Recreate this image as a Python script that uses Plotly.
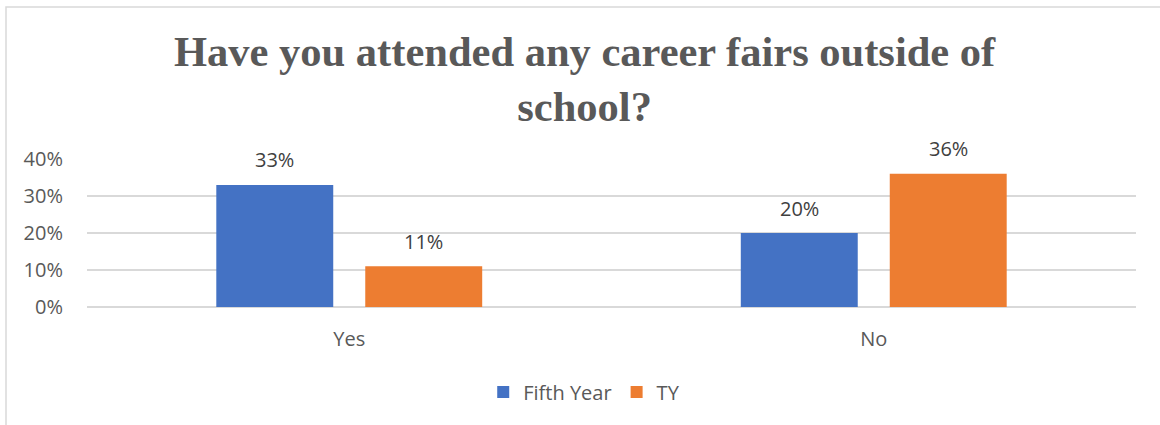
import plotly.graph_objects as go

categories = ["Yes", "No"]
fifth_year = [0.33, 0.20]
ty = [0.11, 0.36]
series_names = ["Fifth Year", "TY"]
title_text = "Have you attended any career fairs outside of<br>school?"

W, H = 1160, 425
M_L, M_R, M_T, M_B = 87, 24, 159, 118
plot_w = W - M_L - M_R
plot_h = H - M_T - M_B

BAR_GAP = 0.432
GROUP_GAP = 0.215
BLUE = "#4472C4"
ORANGE = "#ED7D31"
GRID = "#D9D9D9"
AXIS_TEXT = "#595959"
LABEL_TEXT = "#404040"
FONT = "Open Sans"

fig = go.Figure()
for name, vals, color in [(series_names[0], fifth_year, BLUE), (series_names[1], ty, ORANGE)]:
    fig.add_trace(go.Bar(
        name=name, x=categories, y=vals, marker_color=color,
        marker_line_width=0,
    ))

# value labels placed above each bar, offset to the bar's slot in the group
cat_px = plot_w / len(categories)
slot_px = (1 - BAR_GAP) * cat_px / 2
annotations = []
for i, vals in enumerate([fifth_year, ty]):
    shift = (i - 0.5) * slot_px
    for c, v in zip(categories, vals):
        annotations.append(dict(
            x=c, y=v, xref="x", yref="y", text=f"{round(v*100)}%",
            showarrow=False, xshift=shift, yshift=25, yanchor="middle",
            font=dict(family=FONT, size=20, color=LABEL_TEXT),
        ))

fig.update_layout(
    width=W, height=H,
    margin=dict(l=M_L, r=M_R, t=M_T, b=M_B, pad=0),
    paper_bgcolor="white", plot_bgcolor="white",
    barmode="group", bargap=BAR_GAP, bargroupgap=GROUP_GAP,
    title=dict(
        text=title_text, x=0.504, xanchor="center", xref="container",
        y=0.845, yanchor="top", yref="container",
        font=dict(family="Liberation Serif", size=42.5, color="#595959", weight="bold"),
    ),
    font=dict(family=FONT, size=20, color=AXIS_TEXT),
    yaxis=dict(
        range=[0, 0.4], dtick=0.1, tickformat=".0%",
        showgrid=True, gridcolor=GRID, gridwidth=1.5,
        zeroline=True, zerolinecolor=GRID, zerolinewidth=1.5,
        showline=False, ticks="", ticklabelstandoff=23,
        tickfont=dict(family=FONT, size=20, color=AXIS_TEXT),
    ),
    xaxis=dict(
        showline=False, ticks="", showgrid=False, ticklabelstandoff=18,
        tickfont=dict(family=FONT, size=20, color=AXIS_TEXT),
    ),
    legend=dict(
        orientation="h", x=0.474, xanchor="center", y=-0.574, yanchor="middle",
        font=dict(family=FONT, size=20, color=AXIS_TEXT),
        itemwidth=30, traceorder="normal",
    ),
    annotations=annotations,
    shapes=[dict(
        type="rect", xref="paper", yref="paper",
        x0=(6 - M_L) / plot_w, x1=(W + 10 - M_L) / plot_w,
        y0=-(M_B + 10) / plot_h, y1=(H - M_B - 7) / plot_h,
        line=dict(color=GRID, width=1.5), fillcolor="rgba(0,0,0,0)", layer="below",
    )],
)

fig.write_html("out.html")
